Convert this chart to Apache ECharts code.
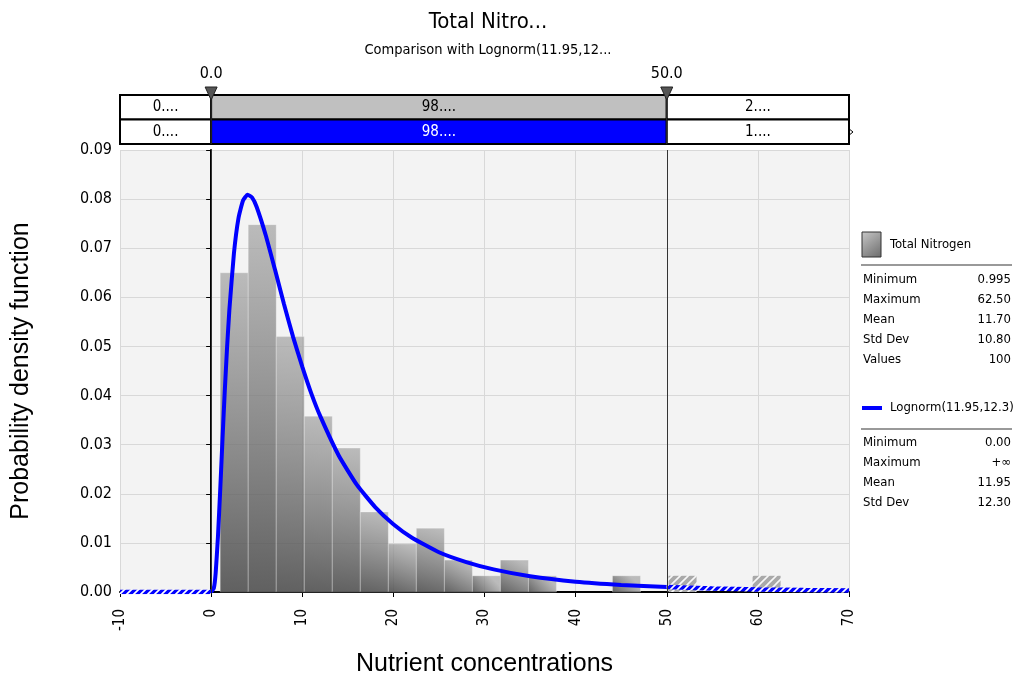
<!DOCTYPE html>
<html>
<head>
<meta charset="utf-8">
<script src="https://cdn.jsdelivr.net/npm/echarts@6/dist/echarts.min.js"></script>
<style>html,body{margin:0;padding:0;background:#fff}#c{width:1020px;height:682px}</style>
</head>
<body>
<div id="c"></div>
<script>
// ---------- data ----------
const titleText = 'Total Nitro...';
const subtitleText = 'Comparison with Lognorm(11.95,12...';
const xAxisName = 'Nutrient concentrations';
const yAxisName = 'Probability density function';

// histogram bin edges (20 bins from min to max)
const binEdges = [0.995, 4.07, 7.145, 10.22, 13.295, 16.37, 19.445, 22.52, 25.595, 28.67,
  31.745, 34.82, 37.895, 40.97, 44.045, 47.12, 50.195, 53.27, 56.345, 59.42, 62.495];
// bar heights (probability density)
const binDensity = [0.0650, 0.0748, 0.0520, 0.0358, 0.0293, 0.0163, 0.0098, 0.0130, 0.0065, 0.0033,
  0.0065, 0.0033, 0, 0, 0.0033, 0, 0.0033, 0, 0, 0.0033];

// fitted curve points
const curveLeftX = [-10, 0];
const curveLeftY = [0, 0];
const curveMidX = [0, 0.3, 0.5, 0.75, 1, 1.25, 1.5, 1.75, 2, 2.5, 3, 3.5, 4, 4.5, 5, 6, 7, 8, 9, 10,
  11, 12, 14, 16, 18, 20, 22, 25, 28, 31, 35, 40, 45, 50];
const curveMidY = [0, 0.0008, 0.0039, 0.0113, 0.0209, 0.0312, 0.0410, 0.0498, 0.0574, 0.0689, 0.0761,
  0.0797, 0.0809, 0.0803, 0.0784, 0.0726, 0.0657, 0.0586, 0.0519, 0.0459, 0.0404, 0.0357, 0.0278,
  0.0218, 0.0173, 0.0138, 0.0111, 0.0081, 0.0061, 0.0046, 0.0032, 0.0021, 0.00145, 0.00102];
const curveRightX = [50, 55, 60, 65, 70];
const curveRightY = [0.00102, 0.00072, 0.00053, 0.00039, 0.00029];

// delimiters and the band above the plot
const delimiters = [0, 50];
const delimiterLabels = ['0.0', '50.0'];
const bandEdges = [-10, 0, 50, 70];
const bandRow1 = ['0....', '98....', '2....'];
const bandRow2 = ['0....', '98....', '1....'];

// legend panel
const seriesName1 = 'Total Nitrogen';
const statLabels1 = ['Minimum', 'Maximum', 'Mean', 'Std Dev', 'Values'];
const statValues1 = ['0.995', '62.50', '11.70', '10.80', '100'];
const seriesName2 = 'Lognorm(11.95,12.3)';
const statLabels2 = ['Minimum', 'Maximum', 'Mean', 'Std Dev'];
const statValues2 = ['0.00', '+\u221e', '11.95', '12.30'];

// ---------- styling ----------
const NF = '"Liberation Sans Narrow","DejaVu Sans Condensed","Arial Narrow",sans-serif';
const AF = '"Liberation Sans",Arial,sans-serif';
const BLUE = '#0000ff';

function hatch(bg, fg, size, lw) {
  const c = document.createElement('canvas');
  c.width = size; c.height = size;
  const g = c.getContext('2d');
  g.fillStyle = bg; g.fillRect(0, 0, size, size);
  g.strokeStyle = fg; g.lineWidth = lw;
  g.beginPath();
  g.moveTo(-1, size + 1); g.lineTo(size + 1, -1);
  g.moveTo(-1 - size, size + 1); g.lineTo(1, -1);
  g.moveTo(size - 1, size + 1); g.lineTo(2 * size + 1, -1);
  g.stroke();
  return { image: c, repeat: 'repeat' };
}
const barHatch = hatch('#a9a9a9', 'rgba(255,255,255,0.9)', 8, 1.6);
const lineHatch = hatch(BLUE, '#ffffff', 7, 1.6);

const barGradient = {
  type: 'linear', x: 0.6, y: 0, x2: 0, y2: 1,
  colorStops: [{ offset: 0, color: 'rgba(165,165,165,0.72)' }, { offset: 1, color: 'rgba(72,72,72,0.86)' }]
};

const bars = binDensity.map((d, i) => [binEdges[i], binEdges[i + 1], d]);
const zip = (xs, ys) => xs.map((x, i) => [x, ys[i]]);

const bandData = [];
[bandRow1, bandRow2].forEach((row, r) => {
  row.forEach((lab, k) => bandData.push([bandEdges[k], bandEdges[k + 1], r, lab, k]));
});

const chart = echarts.init(document.getElementById('c'), null, { renderer: 'canvas' });

const LF = '13px ' + NF;
const legendGraphics = [];
legendGraphics.push({ type: 'rect', shape: { x: 862, y: 232, width: 19, height: 25 },
  style: { fill: { type: 'linear', x: 0, y: 0, x2: 1, y2: 1, colorStops: [{ offset: 0, color: '#c8c8c8' }, { offset: 1, color: '#6a6a6a' }] }, stroke: '#333', lineWidth: 1 } });
legendGraphics.push({ type: 'text', x: 890, y: 245, style: { text: seriesName1, font: LF, fill: '#000', verticalAlign: 'middle' } });
legendGraphics.push({ type: 'line', shape: { x1: 861, y1: 265, x2: 1012, y2: 265 }, style: { stroke: '#999', lineWidth: 2 } });
statLabels1.forEach((l, i) => {
  legendGraphics.push({ type: 'text', x: 863, y: 280 + i * 20, style: { text: l, font: LF, fill: '#000', verticalAlign: 'middle' } });
  legendGraphics.push({ type: 'text', x: 1011, y: 280 + i * 20, style: { text: statValues1[i], font: LF, fill: '#000', align: 'right', verticalAlign: 'middle' } });
});
legendGraphics.push({ type: 'line', shape: { x1: 862, y1: 408, x2: 882, y2: 408 }, style: { stroke: BLUE, lineWidth: 4 } });
legendGraphics.push({ type: 'text', x: 890, y: 408, style: { text: seriesName2, font: LF, fill: '#000', verticalAlign: 'middle' } });
legendGraphics.push({ type: 'line', shape: { x1: 861, y1: 429, x2: 1012, y2: 429 }, style: { stroke: '#999', lineWidth: 2 } });
statLabels2.forEach((l, i) => {
  legendGraphics.push({ type: 'text', x: 863, y: 443 + i * 20, style: { text: l, font: LF, fill: '#000', verticalAlign: 'middle' } });
  legendGraphics.push({ type: 'text', x: 1011, y: 443 + i * 20, style: { text: statValues2[i], font: LF, fill: '#000', align: 'right', verticalAlign: 'middle' } });
});
legendGraphics.push({ type: 'line', shape: { x1: 843, y1: 132, x2: 849, y2: 132 }, style: { stroke: '#000', lineWidth: 1 } });
legendGraphics.push({ type: 'polygon', shape: { points: [[848, 128], [853, 132], [848, 136]] }, style: { fill: '#fff', stroke: '#000', lineWidth: 1 } });

const option = {
  animation: false,
  backgroundColor: '#ffffff',
  title: {
    text: titleText, subtext: subtitleText, left: 483, top: 6, textAlign: 'center', itemGap: 10,
    textStyle: { fontFamily: NF, fontSize: 22, fontWeight: 'normal', color: '#000' },
    subtextStyle: { fontFamily: NF, fontSize: 14.5, color: '#000' }
  },
  grid: [
    { left: 120, right: 171, top: 150, bottom: 89, show: true, backgroundColor: '#f3f3f3', borderWidth: 0 },
    { left: 120, right: 171, top: 95, height: 49, show: false }
  ],
  xAxis: [
    {
      type: 'value', min: -10, max: 70, interval: 10, gridIndex: 0,
      name: xAxisName, nameLocation: 'middle', nameGap: 60,
      nameTextStyle: { fontFamily: AF, fontSize: 25, color: '#000' },
      axisLine: { onZero: false, lineStyle: { color: '#000', width: 2 } },
      axisTick: { show: true, length: 5, lineStyle: { color: '#000' } },
      axisLabel: { rotate: 90, fontFamily: NF, fontSize: 15, color: '#000', margin: 17 },
      splitLine: { show: true, lineStyle: { color: '#d8d8d8', width: 1 } }
    },
    { type: 'value', min: -10, max: 70, gridIndex: 1, show: false }
  ],
  yAxis: [
    {
      type: 'value', min: 0, max: 0.09, interval: 0.01, gridIndex: 0,
      name: yAxisName, nameLocation: 'middle', nameGap: 86,
      nameTextStyle: { fontFamily: AF, fontSize: 25, color: '#000' },
      axisLine: { show: true, lineStyle: { color: '#000', width: 2 } },
      axisTick: { show: true, length: 5, lineStyle: { color: '#000' } },
      axisLabel: { fontFamily: NF, fontSize: 16, color: '#000', margin: 8, formatter: v => v.toFixed(2) },
      splitLine: { show: true, lineStyle: { color: '#d8d8d8', width: 1 } }
    },
    { type: 'value', min: 0, max: 2, inverse: true, gridIndex: 1, show: false }
  ],
  graphic: legendGraphics,
  series: [
    {
      type: 'custom', name: 'hist', xAxisIndex: 0, yAxisIndex: 0, data: bars, z: 2,
      renderItem: (params, api) => {
        const lo = api.value(0), hi = api.value(1), d = api.value(2);
        if (!(d > 0)) return null;
        const p0 = api.coord([lo, d]);
        const p1 = api.coord([hi, 0]);
        return {
          type: 'rect',
          shape: { x: p0[0], y: p0[1], width: p1[0] - p0[0], height: p1[1] - p0[1] },
          style: lo >= 50
            ? { fill: barHatch, stroke: null }
            : { fill: barGradient, stroke: 'rgba(255,255,255,0.28)', lineWidth: 1 }
        };
      }
    },
    {
      type: 'line', name: 'fitLeft', data: zip(curveLeftX, curveLeftY), showSymbol: false, z: 4,
      lineStyle: { color: lineHatch, width: 4.5 }, itemStyle: { color: BLUE }
    },
    {
      type: 'line', name: 'fitMid', data: zip(curveMidX, curveMidY), showSymbol: false, smooth: 0.15, z: 4,
      lineStyle: { color: BLUE, width: 4 }, itemStyle: { color: BLUE },
      markLine: {
        silent: true, symbol: ['none', 'none'], label: { show: false },
        lineStyle: { color: '#333', width: 1, type: 'solid' },
        data: delimiters.map(v => ({ xAxis: v }))
      }
    },
    {
      type: 'line', name: 'fitRight', data: zip(curveRightX, curveRightY), showSymbol: false, z: 4,
      lineStyle: { color: lineHatch, width: 4.5 }, itemStyle: { color: BLUE }
    },
    {
      type: 'custom', name: 'band', xAxisIndex: 1, yAxisIndex: 1, data: bandData, z: 5,
      renderItem: (params, api) => {
        const x0 = api.value(0), x1 = api.value(1), r = api.value(2), k = api.value(4);
        const lab = bandData[params.dataIndex][3];
        const p0 = api.coord([x0, r]);
        const p1 = api.coord([x1, r + 1]);
        let fill = '#ffffff', tc = '#000';
        if (k === 1) { fill = r === 0 ? '#c0c0c0' : BLUE; tc = r === 0 ? '#000' : '#fff'; }
        return {
          type: 'group',
          children: [
            { type: 'rect', shape: { x: p0[0], y: p0[1], width: p1[0] - p0[0], height: p1[1] - p0[1] },
              style: { fill: fill, stroke: '#000', lineWidth: 2 } },
            { type: 'text', x: (p0[0] + p1[0]) / 2, y: (p0[1] + p1[1]) / 2,
              style: { text: lab, fill: tc, font: '15px ' + NF, align: 'center', verticalAlign: 'middle' } }
          ]
        };
      }
    },
    {
      type: 'custom', name: 'delims', xAxisIndex: 1, yAxisIndex: 1, z: 6, clip: false,
      data: delimiters.map((v, i) => [v, i]),
      renderItem: (params, api) => {
        const v = api.value(0);
        const p = api.coord([v, 0]);
        return {
          type: 'group',
          children: [
            { type: 'line', shape: { x1: p[0], y1: p[1], x2: p[0], y2: p[1] + 49 }, style: { stroke: '#333', lineWidth: 1 } },
            { type: 'polygon', shape: { points: [[p[0] - 6, p[1] - 8], [p[0] + 6, p[1] - 8], [p[0], p[1] + 5]] },
              style: { fill: '#555', stroke: '#222', lineWidth: 1 } },
            { type: 'text', x: p[0], y: p[1] - 21,
              style: { text: delimiterLabels[params.dataIndex], fill: '#000', font: '16px ' + NF, align: 'center', verticalAlign: 'middle' } }
          ]
        };
      }
    }
  ]
};
chart.setOption(option);
</script>
</body>
</html>
